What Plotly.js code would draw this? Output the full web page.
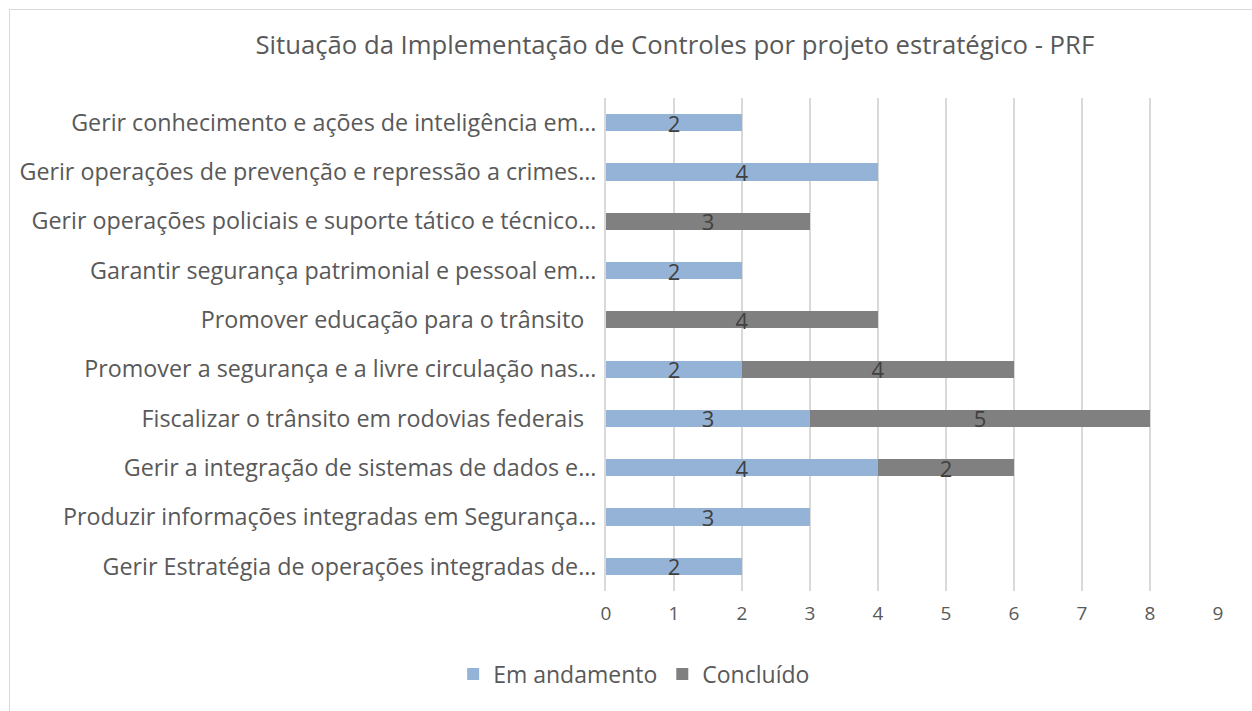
<!DOCTYPE html>
<html><head><meta charset="utf-8">
<script src="https://cdn.plot.ly/plotly-3.0.1.min.js"></script>
<style>html,body{margin:0;padding:0;background:#fff;overflow:hidden}
#frame{position:absolute;left:9px;top:9px;width:1260px;height:720px;border-left:1px solid #d9d9d9;border-top:1px solid #d9d9d9}
#chart{position:absolute;left:0;top:0;width:1252px;height:711px}</style>
</head><body><div id="frame"></div><div id="chart"></div>
<script>
const categories = [
  "Gerir conhecimento e ações de inteligência em…",
  "Gerir operações de prevenção e repressão a crimes…",
  "Gerir operações policiais e suporte tático e técnico…",
  "Garantir segurança patrimonial e pessoal em…",
  "Promover educação para o trânsito\u00a0\u00a0",
  "Promover a segurança e a livre circulação nas…",
  "Fiscalizar o trânsito em rodovias federais\u00a0\u00a0",
  "Gerir a integração de sistemas de dados e…",
  "Produzir informações integradas em Segurança…",
  "Gerir Estratégia de operações integradas de…"
];
const emAndamento = [2, 4, null, 2, null, 2, 3, 4, 3, 2];
const concluido   = [null, null, 3, null, 4, 4, 5, 2, null, null];
const xTicks = [0,1,2,3,4,5,6,7,8,9];

const font = "'Open Sans', sans-serif";
const common = {
  type: 'bar', orientation: 'h', y: categories,
  texttemplate: '%{x}', textposition: 'inside', insidetextanchor: 'middle',
  textangle: 0, constraintext: 'none', cliponaxis: false,
  textfont: {family: font, size: 22, color: '#404040'},
  hoverinfo: 'x+y'
};
const data = [
  Object.assign({}, common, {name: 'Em andamento', x: emAndamento, marker: {color: '#95b3d7', line: {width: 0}}}),
  Object.assign({}, common, {name: 'Concluído', x: concluido, marker: {color: '#808080', line: {width: 0}}})
];
const layout = {
  width: 1252, height: 711,
  paper_bgcolor: 'rgba(0,0,0,0)', plot_bgcolor: 'rgba(0,0,0,0)',
  barmode: 'stack', bargap: 0.65,
  margin: {l: 606, r: 34, t: 98, b: 120},
  font: {family: font, color: '#595959'},
  title: {text: 'Situação da Implementação de Controles por projeto estratégico - PRF',
          x: 0.539, xanchor: 'center', y: 0.937, yanchor: 'middle',
          font: {family: font, size: 25.7, color: '#595959'}},
  xaxis: {range: [0, 9], tickvals: xTicks, showgrid: true, gridcolor: '#d9d9d9', gridwidth: 2,
          zeroline: false, showline: false, ticks: '', tickfont: {size: 19, color: '#595959', family: font},
          ticklabelstandoff: 9, fixedrange: true},
  yaxis: {autorange: 'reversed', type: 'category', showgrid: false, zeroline: false,
          showline: true, linecolor: '#d9d9d9', linewidth: 2, ticks: '',
          tickfont: {size: 23.3, color: '#595959', family: font}, ticklabelstandoff: 3},
  legend: {orientation: 'h', x: 0.046, xanchor: 'center', y: -0.125, yanchor: 'top',
           font: {size: 23, color: '#595959', family: font}, itemwidth: 30, traceorder: 'normal'},
  showlegend: true
};
Plotly.newPlot('chart', data, layout, {displayModeBar: false, staticPlot: true});
</script></body></html>
